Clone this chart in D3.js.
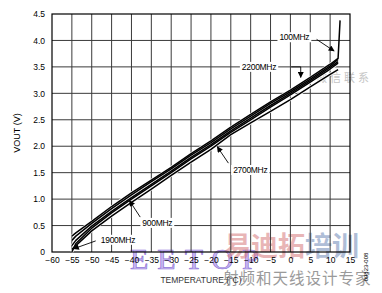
<!DOCTYPE html>
<html>
<head>
<meta charset="utf-8">
<script src="https://cdn.jsdelivr.net/npm/d3@7"></script>
<style>
  body { margin: 0; background: #fff; }
  svg { font-family: "Liberation Sans", Arial, sans-serif; }
</style>
</head>
<body>
<div id="chart"></div>
<script>
// temperature points (°C) shared by all curves
var temps = [-55, -54, -50, -45, -40, -35, -30, -25, -20, -15, -10, -5, 0, 5, 10, 12];
// VOUT (V) per frequency
var v100  = [0.30, 0.36, 0.58, 0.86, 1.12, 1.36, 1.60, 1.86, 2.10, 2.36, 2.60, 2.84, 3.06, 3.30, 3.55, 3.66];
var v2200 = [0.22, 0.30, 0.54, 0.82, 1.08, 1.33, 1.57, 1.83, 2.07, 2.33, 2.57, 2.81, 3.03, 3.27, 3.52, 3.64];
var v900  = [0.12, 0.22, 0.49, 0.77, 1.03, 1.28, 1.53, 1.79, 2.03, 2.29, 2.53, 2.77, 3.00, 3.24, 3.49, 3.60];
var v1900 = [0.00, 0.16, 0.45, 0.74, 1.00, 1.25, 1.50, 1.76, 2.00, 2.26, 2.50, 2.74, 2.97, 3.21, 3.46, 3.57];
var v2700 = [0.05, 0.12, 0.40, 0.68, 0.94, 1.19, 1.45, 1.70, 1.94, 2.22, 2.44, 2.66, 2.88, 3.12, 3.36, 3.45];
// the 100MHz trace shoots up at the very end
var spikeT = [12.5], spikeV = [4.38];

var xTicks = [-60, -55, -50, -45, -40, -35, -30, -25, -20, -15, -10, -5, 0, 5, 10, 15];
var yTicks = [0, 0.5, 1, 1.5, 2, 2.5, 3, 3.5, 4, 4.5];

// label text, where it sits and where its arrow points (data units)
var notes = [
  {text: "100MHz",  t: 1,     v: 4.06, from: [6.6, 4.02],  to: [11, 3.80]},
  {text: "2200MHz", t: -7.9,  v: 3.50, from: [0.2, 3.50],  to: [2.6, 3.30], bend: [2.6, 3.50]},
  {text: "2700MHz", t: -10.1, v: 1.55, from: [-15.6, 1.68], to: [-18.4, 1.99]},
  {text: "900MHz",  t: -33.5, v: 0.55, from: [-37.8, 0.66], to: [-40.5, 0.97]},
  {text: "1900MHz", t: -43.4, v: 0.23, from: [-49.0, 0.21], to: [-54.6, 0.06]}
];

var W = 382, H = 293;
var svg = d3.select("#chart").append("svg").attr("width", W).attr("height", H);

var x = d3.scaleLinear().domain([-60, 15]).range([52, 350]);
var y = d3.scaleLinear().domain([0, 4.5]).range([252, 14]);

// watermarks behind everything
svg.append("text").attr("x", 130).attr("y", 269)
  .style("font-family", "'Liberation Serif', 'DejaVu Serif', serif")
  .style("font-size", "30px").style("letter-spacing", "9px")
  .attr("fill", "#c8b8f0").attr("stroke", "#8f74d8").attr("stroke-width", 0.7)
  .text("EETOP");
var wm = svg.append("text").attr("x", 224).attr("y", 256)
  .style("font-family", "'Noto Sans CJK SC', sans-serif")
  .style("font-size", "27px").style("font-weight", "bold").attr("opacity", 0.55);
wm.append("tspan").attr("fill", "#d77a7c").text("易迪拓");
wm.append("tspan").attr("fill", "#6f89b8").text("培训");
svg.append("text").attr("x", 223).attr("y", 284)
  .style("font-family", "'Noto Sans CJK SC', sans-serif")
  .style("font-size", "15.5px").attr("fill", "#9a9a9a").style("letter-spacing", "1px")
  .text("射频和天线设计专家");
svg.append("text").attr("x", 316).attr("y", 82)
  .style("font-family", "'Noto Sans CJK SC', sans-serif")
  .style("font-size", "11px").attr("fill", "#c4c4c4").style("letter-spacing", "3px")
  .text("微信联系");

// grid
svg.append("g").selectAll("line").data(xTicks.slice(1, -1)).enter().append("line")
  .attr("x1", function(d){ return x(d); }).attr("x2", function(d){ return x(d); })
  .attr("y1", y(0)).attr("y2", y(4.5))
  .attr("stroke", "#3a3a3a").attr("stroke-width", 1);
svg.append("g").selectAll("line").data(yTicks.slice(1, -1)).enter().append("line")
  .attr("y1", function(d){ return y(d); }).attr("y2", function(d){ return y(d); })
  .attr("x1", x(-60)).attr("x2", x(15))
  .attr("stroke", "#3a3a3a").attr("stroke-width", 1);
svg.append("rect").attr("x", x(-60)).attr("y", y(4.5))
  .attr("width", x(15) - x(-60)).attr("height", y(0) - y(4.5))
  .attr("fill", "none").attr("stroke", "#000").attr("stroke-width", 1.2);

// axes (labels only, the grid does the lines)
var xAxis = svg.append("g").attr("transform", "translate(0," + y(0) + ")")
  .call(d3.axisBottom(x).tickValues(xTicks).tickSize(0).tickPadding(5));
var yAxis = svg.append("g").attr("transform", "translate(" + x(-60) + ",0)")
  .call(d3.axisLeft(y).tickValues(yTicks).tickSize(0).tickPadding(7)
    .tickFormat(function(d){ return d === 0 ? "0" : d3.format(".1f")(d); }));
[xAxis, yAxis].forEach(function(a){
  a.select(".domain").remove();
  a.selectAll("text").style("font-size", "8.5px").style("font-family", "'Liberation Sans', Arial, sans-serif").attr("fill", "#000");
});

svg.append("text").attr("transform", "translate(20," + y(2.25) + ") rotate(-90)")
  .attr("text-anchor", "middle").style("font-size", "9px").text("VOUT (V)");
svg.append("text").attr("x", x(-22.5)).attr("y", 283)
  .attr("text-anchor", "middle").style("font-size", "8.5px").attr("fill", "#333")
  .text("TEMPERATURE (°C)");
svg.append("text").attr("transform", "translate(368,267) rotate(-90)")
  .attr("text-anchor", "middle").style("font-size", "6px").text("09823-008");

// curves
var series = [
  {name: "100MHz",  v: v100},
  {name: "2200MHz", v: v2200},
  {name: "900MHz",  v: v900},
  {name: "1900MHz", v: v1900},
  {name: "2700MHz", v: v2700}
];
var line = d3.line()
  .x(function(d){ return x(d[0]); })
  .y(function(d){ return y(d[1]); })
  .curve(d3.curveMonotoneX);
series.forEach(function(s){
  var pts = temps.map(function(t, i){ return [t, s.v[i]]; });
  svg.append("path").datum(pts).attr("d", line)
    .attr("fill", "none").attr("stroke", "#fff").attr("stroke-width", 2.8);
});
series.forEach(function(s){
  var pts = temps.map(function(t, i){ return [t, s.v[i]]; });
  if (s.name === "100MHz") {
    spikeT.forEach(function(t, i){ pts.push([t, spikeV[i]]); });
  }
  svg.append("path").datum(pts).attr("d", d3.line()
      .x(function(d){ return x(d[0]); }).y(function(d){ return y(d[1]); }))
    .attr("fill", "none").attr("stroke", "#000").attr("stroke-width", 1.5)
    .attr("stroke-linejoin", "round");
});

// annotations
svg.append("defs").append("marker").attr("id", "ah")
  .attr("viewBox", "0 0 10 10").attr("refX", 9).attr("refY", 5)
  .attr("markerWidth", 7).attr("markerHeight", 6).attr("orient", "auto")
  .attr("markerUnits", "userSpaceOnUse")
  .append("path").attr("d", "M0,0L10,5L0,10z").attr("fill", "#000");

var ng = svg.append("g");
notes.forEach(function(n){
  var g = ng.append("g");
  var bg = g.append("rect").attr("fill", "#fff");
  var tx = g.append("text").attr("x", x(n.t)).attr("y", y(n.v)).attr("dy", "0.35em")
    .attr("text-anchor", "middle").style("font-size", "8.5px").style("letter-spacing", "-0.3px")
    .text(n.text);
  var bb = tx.node().getBBox();
  bg.attr("x", bb.x - 2).attr("y", bb.y).attr("width", bb.width + 4).attr("height", bb.height);
  var p = [n.from];
  if (n.bend) p.push(n.bend);
  p.push(n.to);
  g.append("path").attr("d", d3.line().x(function(d){ return x(d[0]); }).y(function(d){ return y(d[1]); })(p))
    .attr("fill", "none").attr("stroke", "#000").attr("stroke-width", 0.9)
    .attr("marker-end", "url(#ah)");
});
</script>
</body>
</html>
